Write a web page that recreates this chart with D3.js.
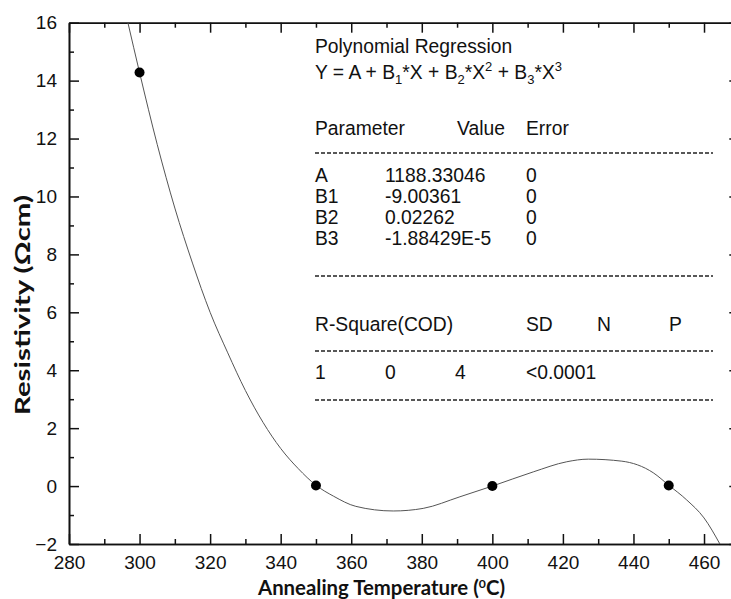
<!DOCTYPE html>
<html>
<head>
<meta charset="utf-8">
<script src="https://cdn.jsdelivr.net/npm/d3@7"></script>
<style>
  html, body { margin: 0; padding: 0; background: #fff; }
  svg { display: block; }
  .tick text { font-family: "Liberation Sans", Arial, sans-serif; font-size: 19px; fill: #111; }
  .inset text { font-family: "Liberation Sans", Arial, sans-serif; font-size: 19.3px; fill: #111; }
  .title { font-family: Lato, "Open Sans", sans-serif; font-weight: 700; fill: #111; }
</style>
</head>
<body>
<svg id="chart" width="731" height="599"></svg>
<script>
// Measured resistivity at each annealing temperature
const temps = [300, 350, 400, 450];
const resistivity = [14.28, 0.02, 0.0, 0.02];

// Fitted cubic, traced along its length (x in °C, y in Ωcm)
const fitX = [296.7, 300, 305, 310, 315, 320, 325, 330, 335, 340, 345, 350, 355, 361.3, 371.9, 380.4, 390.8, 400, 411.6, 421.1, 427.2, 436.7, 445.6, 450, 455.1, 460, 464.5];
const fitY = [16.0, 14.28, 11.8, 9.6, 7.7, 6.0, 4.6, 3.3, 2.2, 1.3, 0.6, 0.03, -0.35, -0.70, -0.86, -0.77, -0.37, 0.0, 0.49, 0.84, 0.93, 0.86, 0.46, 0.03, -0.48, -1.1, -2.0];

// Axis ticks
const xMajor = [280, 300, 320, 340, 360, 380, 400, 420, 440, 460];
const xMinor = [290, 310, 330, 350, 370, 390, 410, 430, 450, 470];
const yMajor = [-2, 0, 2, 4, 6, 8, 10, 12, 14, 16];
const yMinor = [-1, 1, 3, 5, 7, 9, 11, 13, 15];

// Regression report
const reportTitle = "Polynomial Regression";
const paramHeader = ["Parameter", "Value", "Error"];
const paramNames = ["A", "B1", "B2", "B3"];
const paramValues = ["1188.33046", "-9.00361", "0.02262", "-1.88429E-5"];
const paramErrors = ["0", "0", "0", "0"];
const statHeader = ["R-Square(COD)", "SD", "N", "P"];
const statValues = ["1", "0", "4", "<0.0001"];

const svg = d3.select("#chart");
const plotL = 69, plotR = 739.3, plotT = 22.7, plotB = 544;

const x = d3.scaleLinear().domain([280, 470]).range([plotL, plotR]);
const y = d3.scaleLinear().domain([-2, 16]).range([plotB, plotT]);

// clip for the fitted line
svg.append("defs").append("clipPath").attr("id", "plot")
  .append("rect").attr("x", plotL).attr("y", plotT).attr("width", plotR - plotL).attr("height", plotB - plotT);

function styleAxis(g) {
  g.selectAll("path.domain").attr("stroke", "#111").attr("stroke-width", 1.6);
  g.selectAll(".tick line").attr("stroke", "#111").attr("stroke-width", 1.5);
}

// bottom axis (labels + major ticks)
svg.append("g").attr("transform", `translate(0,${plotB})`)
  .call(d3.axisBottom(x).tickValues(xMajor).tickSize(-10).tickSizeOuter(0).tickPadding(12).tickFormat(d3.format("d")))
  .call(styleAxis);
svg.append("g").attr("transform", `translate(0,${plotB})`)
  .call(d3.axisBottom(x).tickValues(xMinor).tickSize(-5).tickSizeOuter(0).tickFormat(""))
  .call(styleAxis);

// top axis
svg.append("g").attr("transform", `translate(0,${plotT})`)
  .call(d3.axisTop(x).tickValues(xMajor).tickSize(-10).tickSizeOuter(0).tickFormat(""))
  .call(styleAxis);
svg.append("g").attr("transform", `translate(0,${plotT})`)
  .call(d3.axisTop(x).tickValues(xMinor).tickSize(-5).tickSizeOuter(0).tickFormat(""))
  .call(styleAxis);

// left axis
svg.append("g").attr("transform", `translate(${plotL},0)`)
  .call(d3.axisLeft(y).tickValues(yMajor).tickSize(-10).tickSizeOuter(0).tickPadding(12).tickFormat(d3.format("d")))
  .call(styleAxis);
svg.append("g").attr("transform", `translate(${plotL},0)`)
  .call(d3.axisLeft(y).tickValues(yMinor).tickSize(-5).tickSizeOuter(0).tickFormat(""))
  .call(styleAxis);

// right axis
svg.append("g").attr("transform", `translate(${plotR},0)`)
  .call(d3.axisRight(y).tickValues(yMajor).tickSize(-10).tickSizeOuter(0).tickFormat(""))
  .call(styleAxis);

// fitted curve
const pts = fitX.map((d, i) => [d, fitY[i]]);
svg.append("path")
  .attr("clip-path", "url(#plot)")
  .attr("d", d3.line().x(d => x(d[0])).y(d => y(d[1])).curve(d3.curveMonotoneX)(pts))
  .attr("fill", "none").attr("stroke", "#555").attr("stroke-width", 1);

// data points
svg.append("g").selectAll("circle").data(temps).join("circle")
  .attr("cx", d => x(d)).attr("cy", (d, i) => y(resistivity[i])).attr("r", 5).attr("fill", "#000");

// regression report
const inset = svg.append("g").attr("class", "inset");
const c0 = 315, c1 = 385, c2 = 455, c3 = 526, c4 = 597, c5 = 669;

inset.append("text").attr("x", c0).attr("y", 53).text(reportTitle);

// equation with subscripts and superscripts
const eq = inset.append("text").attr("x", c0).attr("y", 79);
const eqParts = [
  ["Y = A + B", ""], ["1", "sub"], ["*X + B", ""], ["2", "sub"], ["*X", ""], ["2", "sup"],
  [" + B", ""], ["3", "sub"], ["*X", ""], ["3", "sup"]
];
let shift = 0;
eqParts.forEach(([t, k]) => {
  const s = eq.append("tspan").text(t);
  const target = k === "sub" ? 5 : k === "sup" ? -8 : 0;
  if (target !== shift) s.attr("dy", target - shift);
  if (k) s.attr("font-size", 13);
  shift = target;
});

const headerX = [c0, 457, c3];
paramHeader.forEach((t, i) => inset.append("text").attr("x", headerX[i]).attr("y", 135).text(t));

const rowY = [182, 203, 224, 245];
paramNames.forEach((t, i) => {
  inset.append("text").attr("x", c0).attr("y", rowY[i]).text(t);
  inset.append("text").attr("x", c1).attr("y", rowY[i]).text(paramValues[i]);
  inset.append("text").attr("x", c3).attr("y", rowY[i]).text(paramErrors[i]);
});

const statX = [c0, c3, c4, c5];
statHeader.forEach((t, i) => inset.append("text").attr("x", statX[i]).attr("y", 331).text(t));
const statValX = [c0, c1, c2, c3];
statValues.forEach((t, i) => inset.append("text").attr("x", statValX[i]).attr("y", 379).text(t));

[153, 276, 351, 400].forEach(yy => {
  inset.append("line").attr("x1", c0).attr("x2", 713).attr("y1", yy).attr("y2", yy)
    .attr("stroke", "#222").attr("stroke-width", 1.6).attr("stroke-dasharray", "4,2");
});

// axis titles
const xt = svg.append("text").attr("class", "title")
  .attr("x", 258).attr("y", 595).attr("font-size", 20)
  .attr("textLength", 247).attr("lengthAdjust", "spacingAndGlyphs");
xt.append("tspan").text("Annealing Temperature (");
xt.append("tspan").text("0").attr("font-size", 12).attr("dy", -7);
xt.append("tspan").text("C)").attr("dy", 7);

svg.append("text").attr("class", "title")
  .attr("transform", "translate(30,305) rotate(-90)").attr("text-anchor", "middle")
  .attr("font-size", 21)
  .attr("textLength", 220).attr("lengthAdjust", "spacingAndGlyphs")
  .text("Resistivity (Ωcm)");
</script>
</body>
</html>
